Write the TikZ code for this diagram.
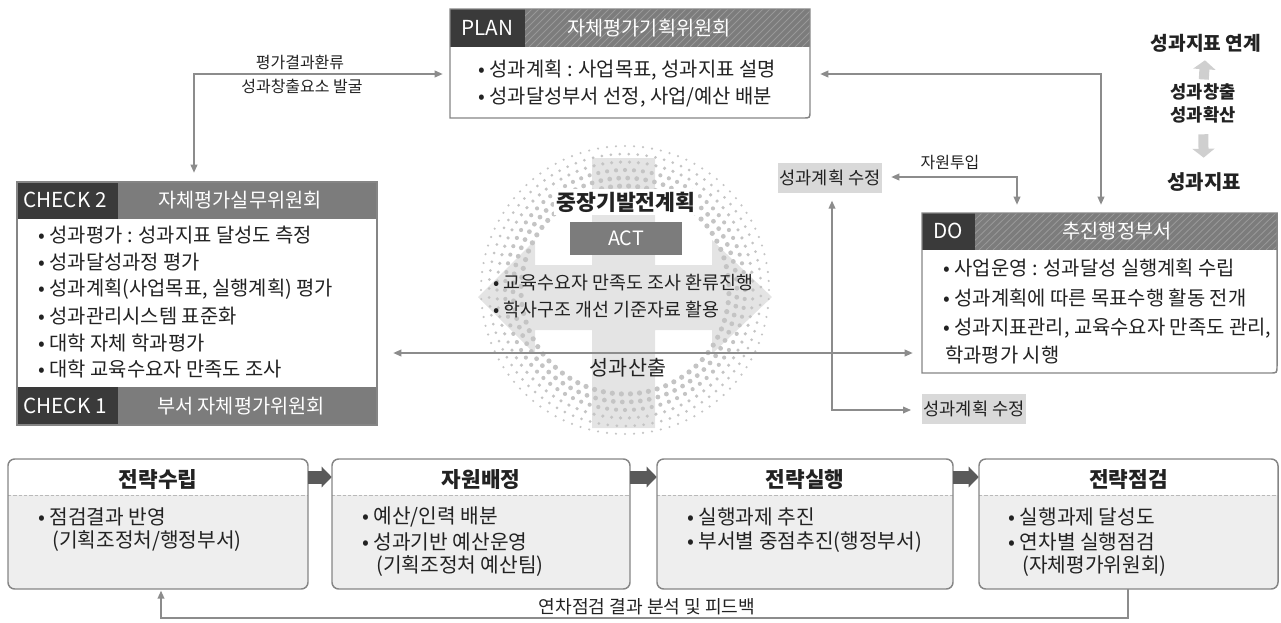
\documentclass[tikz,border=0pt]{standalone}
\usepackage{fontspec}
\setmainfont{Noto Sans CJK KR}
\usetikzlibrary{arrows.meta,fit,calc}
\definecolor{dk}{HTML}{3A3A3A}
\definecolor{md}{HTML}{7C7C7C}
\definecolor{ln}{HTML}{8C8C8C}
\definecolor{bd}{HTML}{858585}
\definecolor{lt}{HTML}{EEEEEE}
\definecolor{kb}{HTML}{D9D9D9}
\definecolor{tc}{HTML}{222222}
\definecolor{dotc}{HTML}{C4C4C4}
\definecolor{crs}{HTML}{E4E4E4}
\definecolor{blk}{HTML}{5A5A5A}
\definecolor{rar}{HTML}{CFCFCF}
\newcommand\fsBody{\fontsize{14.9}{17}\selectfont}
\newcommand\fsHdr{\fontsize{14.8}{17}\selectfont}
\newcommand\fsLat{\fontsize{15.5}{18}\selectfont}
\newcommand\fsSmall{\fontsize{12}{14}\selectfont}
\newcommand\fsK{\fontsize{13.2}{15}\selectfont}
\newcommand\fsCen{\fontsize{13.8}{16}\selectfont}
\newcommand\fsBot{\fontsize{15.2}{17}\selectfont}
\begin{document}
\begin{tikzpicture}[x=0.75pt,y=-0.75pt,
  >={Triangle[length=6pt,width=5pt]},
  conn/.style={draw=ln, line width=1.1pt},
  boxline/.style={draw=bd, line width=1.1pt},
  hatch/.style={draw=white, draw opacity=0.22, line width=0.6pt},
  hdrtxt/.style={text=white, font=\fsHdr, inner sep=0},
  lat/.style={text=white, font=\fsLat, inner sep=0},
  txt/.style={font=\fsBody, text=tc, anchor=west, inner sep=0},
  ctxt/.style={font=\fsCen, text=tc, anchor=west, inner sep=0},
  small/.style={font=\fsSmall, text=tc, inner sep=0},
  kbox/.style={fill=kb, text=tc, font=\fsK, minimum width=78pt, minimum height=23pt, inner sep=0},
  rcol/.style={font=\fontsize{14.4}{17}\selectfont\bfseries, text=tc, inner sep=0},
  rarrow/.style={draw=rar, line width=7.5pt, -{Triangle[length=6.75pt,width=16.5pt]}},
  barrow/.style={draw=blk, line width=9.75pt, -{Triangle[length=7.5pt,width=15pt]}},
  sep/.style={draw=gray!55, line width=0.6pt, dash pattern=on 2.5pt off 1.5pt},
  btitle/.style={font=\fontsize{16}{18}\selectfont\bfseries, text=tc, inner sep=0},
  btxt/.style={font=\fsBot, text=tc, anchor=west, inner sep=0}
]
\useasboundingbox (0,0) rectangle (1281,622);

% ---------- centre decoration ----------
\fill[crs] (478,297) -- (535,240) -- (535,265) -- (592,265) -- (592,158) -- (655,158) -- (655,265)
  -- (712,265) -- (712,240) -- (772,297) -- (712,354) -- (712,330) -- (655,330) -- (655,428)
  -- (592,428) -- (592,330) -- (535,330) -- (535,354) -- cycle;
\foreach \rr/\ss/\nn in {104/2.6/72,112/2.4/78,120/2.1/84,128/1.8/90,136/1.5/95,144/1.2/100} {
  \pgfmathsetmacro\stp{360/\nn}
  \foreach \kk in {1,...,\nn} {
    \pgfmathsetmacro\ang{\kk*\stp+3*\rr}
    \pgfmathsetmacro\dx{625+\rr*cos(\ang)}
    \pgfmathsetmacro\dy{290+\rr*sin(\ang)}
    \fill[dotc] (\dx,\dy) circle[radius=\ss*0.75pt];
  }
}
\node[font=\fontsize{16.2}{19}\selectfont\bfseries, text=tc, fill=white, inner sep=2pt] (ctitle) at (626,202) {중장기발전계획};
\node[fill=md, text=white, font=\fsHdr, minimum width=84pt, minimum height=24.75pt, inner sep=0] (act) at (626,238.5) {ACT};
\node[ctxt] (c1) at (493,283) {• 교육수요자 만족도 조사 환류진행};
\node[ctxt] (c2) at (493,310) {• 학사구조 개선 기준자료 활용};

% ---------- PLAN ----------
\fill[white] (450,9) rectangle (810,118);
\fill[md] (525,9) rectangle (810,47);
\begin{scope}
  \clip (525,9) rectangle (810,47);
  \foreach \h in {0,7,...,340} \draw[hatch] (525+\h-38,47) -- (525+\h,9);
\end{scope}
\fill[dk] (450,9) rectangle (525,47);
\draw[boxline] (450,9) -- (810,9) -- (810,111) .. controls (810,118) .. (803,118) -- (450,118) -- cycle;
\node[fit={(450,9)(810,118)}, inner sep=0] (plan) {};
\node[lat] (planL) at (487,28) {PLAN};
\node[hdrtxt] (planH) at (649,28) {자체평가기획위원회};
\node[txt] (plan1) at (478,70) {• 성과계획 : 사업목표, 성과지표 설명};
\node[txt] (plan2) at (478,97) {• 성과달성부서 선정, 사업/예산 배분};

% ---------- CHECK ----------
\fill[white] (17,182) rectangle (377,425);
\fill[md] (118,182) rectangle (377,219);
\fill[dk] (17,182) rectangle (118,219);
\fill[md] (118,387) rectangle (377,425);
\fill[dk] (17,387) rectangle (118,425);
\draw[boxline] (17,182) rectangle (377,425);
\node[fit={(17,182)(377,425)}, inner sep=0] (check) {};
\node[lat] (chk2L) at (65,200) {CHECK 2};
\node[hdrtxt] (chk2H) at (240,200) {자체평가실무위원회};
\node[lat] (chk1L) at (65,406) {CHECK 1};
\node[hdrtxt] (chk1H) at (241,406) {부서 자체평가위원회};
\node[txt] (ck1) at (38,235) {• 성과평가 : 성과지표 달성도 측정};
\node[txt] (ck2) at (38,262) {• 성과달성과정 평가};
\node[txt] (ck3) at (38,289) {• 성과계획(사업목표, 실행계획) 평가};
\node[txt] (ck4) at (38,316) {• 성과관리시스템 표준화};
\node[txt] (ck5) at (38,343) {• 대학 자체 학과평가};
\node[txt] (ck6) at (38,369) {• 대학 교육수요자 만족도 조사};

% ---------- DO ----------
\fill[white] (922,213) rectangle (1277,373);
\fill[md] (975,213) rectangle (1277,250);
\begin{scope}
  \clip (975,213) rectangle (1277,250);
  \foreach \h in {0,7,...,340} \draw[hatch] (975+\h-38,250) -- (975+\h,213);
\end{scope}
\fill[dk] (922,213) rectangle (975,250);
\draw[boxline] (922,213) -- (1277,213) -- (1277,366) .. controls (1277,373) .. (1270,373) -- (922,373) -- cycle;
\node[fit={(922,213)(1277,373)}, inner sep=0] (do) {};
\node[lat] (doL) at (948,231) {DO};
\node[hdrtxt] (doH) at (1117,231) {추진행정부서};
\node[txt] (do1) at (943,268) {• 사업운영 : 성과달성 실행계획 수립};
\node[txt] (do2) at (943,298) {• 성과계획에 따른 목표수행 활동 전개};
\node[txt] (do3) at (943,328) {• 성과지표관리, 교육수요자 만족도 관리,};
\node[txt] (do4) at (945,355) {학과평가 시행};

% ---------- small boxes and labels ----------
\node[kbox] (ktop) at (830,178) {성과계획 수정};
\node[kbox] (kbot) at (974,409) {성과계획 수정};
\node[small] (lab1) at (300,62) {평가결과환류};
\node[small] (lab2) at (302,86) {성과창출요소 발굴};
\node[small] (lab3) at (950,163) {자원투입};
\node[font=\fontsize{15.5}{18}\selectfont, text=tc, inner sep=0] (lab4) at (628,368) {성과산출};

% ---------- right column ----------
\node[rcol] (rc1) at (1206,43) {성과지표 연계};
\node[rcol, font=\fontsize{13.2}{15}\selectfont\bfseries] (rc2) at (1203,92) {성과창출};
\node[rcol, font=\fontsize{13.2}{15}\selectfont\bfseries] (rc3) at (1203,115) {성과확산};
\node[rcol, font=\fontsize{15}{17}\selectfont\bfseries] (rc4) at (1204,182) {성과지표};
\draw[rarrow, shorten <=3pt, shorten >=6pt] (rc2) -- (rc1);
\draw[rarrow, shorten <=8pt, shorten >=11pt] (rc3) -- (rc4);

% ---------- connectors ----------
\coordinate (pc1) at (194,74);
\coordinate (pc2) at (1101,74);
\coordinate (pc3) at (1017,177);
\coordinate (pc4) at (832,410);
\coordinate (pc5) at (0,353);
\draw[conn,<->, shorten <=5.25pt, shorten >=6.75pt] (plan.west |- pc1) -- (pc1) -- (check.north -| pc1);
\draw[conn,<->, shorten <=7.5pt, shorten >=6pt] (plan.east |- pc2) -- (pc2) -- (do.north -| pc2);
\draw[conn,<->, shorten <=6pt, shorten >=6.75pt] (do.north -| pc3) -- (pc3) -- (ktop.east |- pc3);
\draw[conn,<->, shorten <=5.25pt, shorten >=8pt] (ktop.south -| pc4) -- (pc4) -- (kbot.west |- pc4);
\draw[conn,<->, shorten <=12pt, shorten >=6.75pt] (check.east |- pc5) -- (do.west |- pc5);

% ---------- bottom row ----------
\foreach \i/\xa/\xb/\ttl in {1/8/308/전략수립, 2/332/630/자원배정, 3/657/953/전략실행, 4/979/1278/전략점검} {
  \fill[white, rounded corners=5] (\xa,459) rectangle (\xb,589);
  \begin{scope}
    \clip[rounded corners=5] (\xa,459) rectangle (\xb,589);
    \fill[lt] (\xa,495) rectangle (\xb,589);
  \end{scope}
  \draw[sep] (\xa,495) -- (\xb,495);
  \draw[boxline, rounded corners=5] (\xa,459) rectangle (\xb,589);
  \node[fit={(\xa,459)(\xb,589)}, inner sep=0] (b\i) {};
  \node[btitle] (bt\i) at ({(\xa+\xb)/2},480) {\ttl};
}
\node[btxt] (b1a) at (38,517) {• 점검결과 반영};
\node[btxt] (b1b) at (52,541) {(기획조정처/행정부서)};
\node[btxt] (b2a) at (362,517) {• 예산/인력 배분};
\node[btxt] (b2b) at (362,542) {• 성과기반 예산운영};
\node[btxt] (b2c) at (376,566) {(기획조정처 예산팀)};
\node[btxt] (b3a) at (687,517) {• 실행과제 추진};
\node[btxt] (b3b) at (687,542) {• 부서별 중점추진(행정부서)};
\node[btxt] (b4a) at (1008,517) {• 실행과제 달성도};
\node[btxt] (b4b) at (1008,542) {• 연차별 실행점검};
\node[btxt] (b4c) at (1022,566) {(자체평가위원회)};

\coordinate (ba) at (0,477);
\draw[barrow] (b1.east |- ba) -- (b2.west |- ba);
\draw[barrow] (b2.east |- ba) -- (b3.west |- ba);
\draw[barrow] (b3.east |- ba) -- (b4.west |- ba);

\coordinate (pc6) at (1128,618);
\coordinate (pc7) at (161,618);
\draw[conn,->, shorten >=1pt] (b4.south -| pc6) -- (pc6) -- (pc7) -- (b1.south -| pc7);
\node[font=\fontsize{13.6}{16}\selectfont, text=tc, inner sep=0] (fb) at (647,607) {연차점검 결과 분석 및 피드백};
\end{tikzpicture}
\end{document}
